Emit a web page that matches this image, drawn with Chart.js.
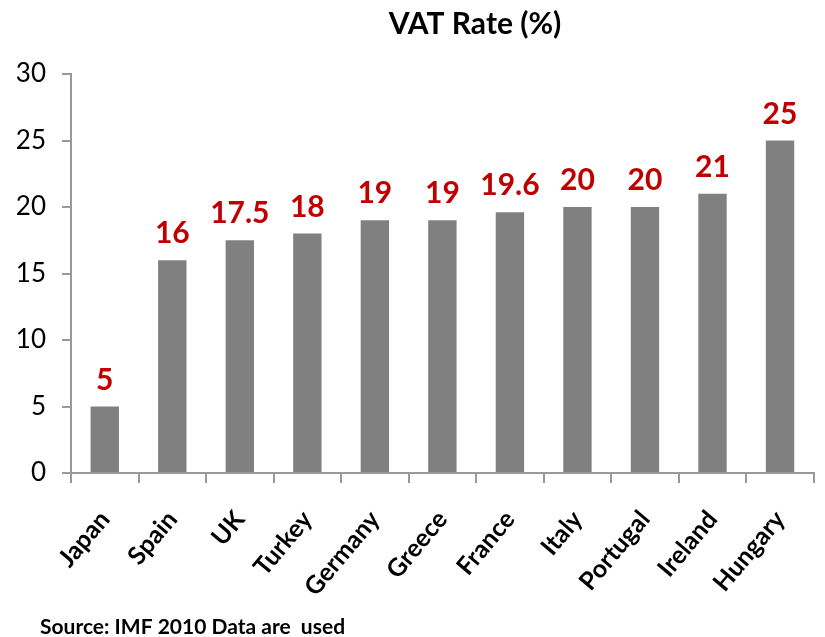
<!DOCTYPE html>
<html>
<head>
<meta charset="utf-8">
<script src="https://cdn.jsdelivr.net/npm/chart.js@4"></script>
<style>
  html, body { margin: 0; padding: 0; background: #fff; }
  #wrap { width: 825px; height: 637px; }
</style>
</head>
<body>
<div id="wrap"><canvas id="vatChart" width="825" height="637"></canvas></div>
<script>
const countries = ["Japan", "Spain", "UK", "Turkey", "Germany", "Greece", "France", "Italy", "Portugal", "Ireland", "Hungary"];
const vatRates = [5, 16, 17.5, 18, 19, 19, 19.6, 20, 20, 21, 25];
const yTicks = [0, 5, 10, 15, 20, 25, 30];

const FONT = "Lato, sans-serif";

// red value labels above each bar
const valueLabels = {
  id: "valueLabels",
  afterDatasetsDraw(chart) {
    const ctx = chart.ctx;
    const meta = chart.getDatasetMeta(0);
    ctx.save();
    ctx.fillStyle = "#c00000";
    ctx.font = "bold 30px " + FONT;
    ctx.textAlign = "center";
    ctx.textBaseline = "alphabetic";
    meta.data.forEach((bar, i) => {
      ctx.fillText(String(vatRates[i]), bar.x, bar.y - 17);
    });
    ctx.restore();
  }
};

// title (sits right of canvas centre in the original) and source note
const textBits = {
  id: "textBits",
  afterDraw(chart) {
    const ctx = chart.ctx;
    ctx.save();
    ctx.fillStyle = "#000";
    ctx.textBaseline = "alphabetic";
    ctx.font = "bold 30px " + FONT;
    ctx.textAlign = "center";
    ctx.fillText("VAT Rate (%)", 475, 34);
    ctx.font = "bold 21px " + FONT;
    ctx.textAlign = "left";
    ctx.fillText("Source: IMF 2010 Data are  used", 40, 634);
    ctx.restore();
  }
};

new Chart(document.getElementById("vatChart"), {
  type: "bar",
  data: {
    labels: countries,
    datasets: [{
      data: vatRates,
      backgroundColor: "#808080",
      borderWidth: 0,
      categoryPercentage: 0.42,
      barPercentage: 1
    }]
  },
  options: {
    responsive: false,
    animation: false,
    layout: { padding: { left: 0, right: -5, top: 74, bottom: 0 } },
    plugins: {
      legend: { display: false },
      tooltip: { enabled: false },
      title: { display: false }
    },
    scales: {
      x: {
        offset: true,
        grid: { display: true, drawOnChartArea: false, offset: true, tickLength: 10, color: "#999", lineWidth: 2 },
        border: { color: "#999", width: 2 },
        ticks: {
          color: "#000",
          font: { family: FONT, size: 25, weight: "bold" },
          minRotation: 50,
          maxRotation: 50,
          padding: 22
        },
        afterFit(scale) { scale.height = 164; }
      },
      y: {
        min: 0,
        max: 30,
        afterBuildTicks(scale) { scale.ticks = yTicks.map(v => ({ value: v })); },
        grid: { display: true, drawOnChartArea: false, tickLength: 9, color: "#999", lineWidth: 2 },
        border: { color: "#999", width: 2 },
        ticks: {
          color: "#000",
          font: { family: FONT, size: 26 },
          padding: 16
        },
        afterFit(scale) { scale.width = 71; }
      }
    }
  },
  plugins: [valueLabels, textBits]
});
</script>
</body>
</html>
